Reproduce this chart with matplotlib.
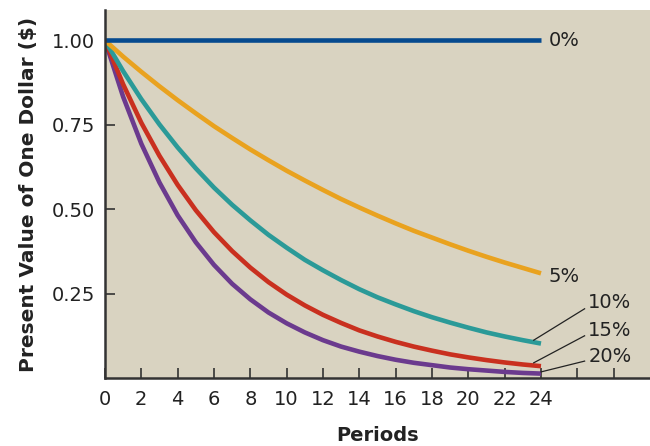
import matplotlib
matplotlib.use("Agg")
import matplotlib.pyplot as plt

periods = list(range(25))
pv_0 = [1.0] * 25
pv_5 = [1.000, .952, .907, .864, .823, .784, .746, .711, .677, .645, .614, .585, .557,
        .530, .505, .481, .458, .436, .416, .396, .377, .359, .342, .326, .310]
pv_10 = [1.000, .909, .826, .751, .683, .621, .564, .513, .467, .424, .386, .350, .319,
         .290, .263, .239, .218, .198, .180, .164, .149, .135, .123, .112, .102]
pv_15 = [1.000, .870, .756, .658, .572, .497, .432, .376, .327, .284, .247, .215, .187,
         .163, .141, .123, .107, .093, .081, .070, .061, .053, .046, .040, .035]
pv_20 = [1.000, .833, .694, .579, .482, .402, .335, .279, .233, .194, .162, .135, .112,
         .093, .078, .065, .054, .045, .038, .031, .026, .022, .018, .015, .013]

xticks = list(range(0, 30, 2))
xlabels = [str(t) if t <= 24 else "" for t in xticks]
yticks = [0.25, 0.50, 0.75, 1.00]

plt.rcParams['font.family'] = ['DejaVu Sans']

fig = plt.figure(figsize=(6.5, 4.46), dpi=100, facecolor='white')
ax = fig.add_axes([0.1615, 0.1525, 0.8385, 0.825])
ax.set_facecolor('#d9d3c1')

ax.plot(periods, pv_20, color='#6b3a8e', lw=3.3, solid_capstyle='butt')
ax.plot(periods, pv_15, color='#c9301f', lw=3.3, solid_capstyle='butt')
ax.plot(periods, pv_10, color='#2b9a98', lw=3.3, solid_capstyle='butt')
ax.plot(periods, pv_5, color='#e9a21f', lw=3.3, solid_capstyle='butt')
ax.plot(periods, pv_0, color='#064a8f', lw=3.3, solid_capstyle='butt')

ax.set_xlim(0, 30)
ax.set_ylim(0, 1.09)
ax.set_xticks(xticks)
ax.set_xticklabels(xlabels)
ax.set_yticks(yticks)
ax.set_yticklabels(["%.2f" % v for v in yticks])

for s in ['top', 'right']:
    ax.spines[s].set_visible(False)
for s in ['left', 'bottom']:
    ax.spines[s].set_color('#333333')
    ax.spines[s].set_linewidth(1.8)
ax.tick_params(direction='in', length=7, width=1.2, color='#333333',
               labelsize=14, labelcolor='#222222')
ax.tick_params(axis='x', pad=9)
ax.tick_params(axis='y', pad=7)

ax.set_xlabel('Periods', fontsize=14, fontweight='bold', color='#222222', labelpad=12)
ax.set_ylabel('Present Value of One Dollar ($)', fontsize=14.5, fontweight='bold',
              color='#222222', labelpad=10)

lab = dict(fontsize=14, color='#222222', va='center', ha='left')
ax.text(24.4, pv_0[-1], '0%', **lab)
ax.text(24.4, pv_5[-1] - 0.01, '5%', **lab)
ax.text(26.6, 0.225, '10%', **lab)
ax.text(26.6, 0.14, '15%', **lab)
ax.text(26.6, 0.065, '20%', **lab)
ax.plot([23.6, 26.4], [pv_10[-1] + 0.01, 0.205], color='#222222', lw=0.9)
ax.plot([23.6, 26.4], [pv_15[-1] + 0.01, 0.125], color='#222222', lw=0.9)
ax.plot([24.0, 26.4], [pv_20[-1] + 0.005, 0.05], color='#222222', lw=0.9)

fig.savefig('out.png', dpi=100)
